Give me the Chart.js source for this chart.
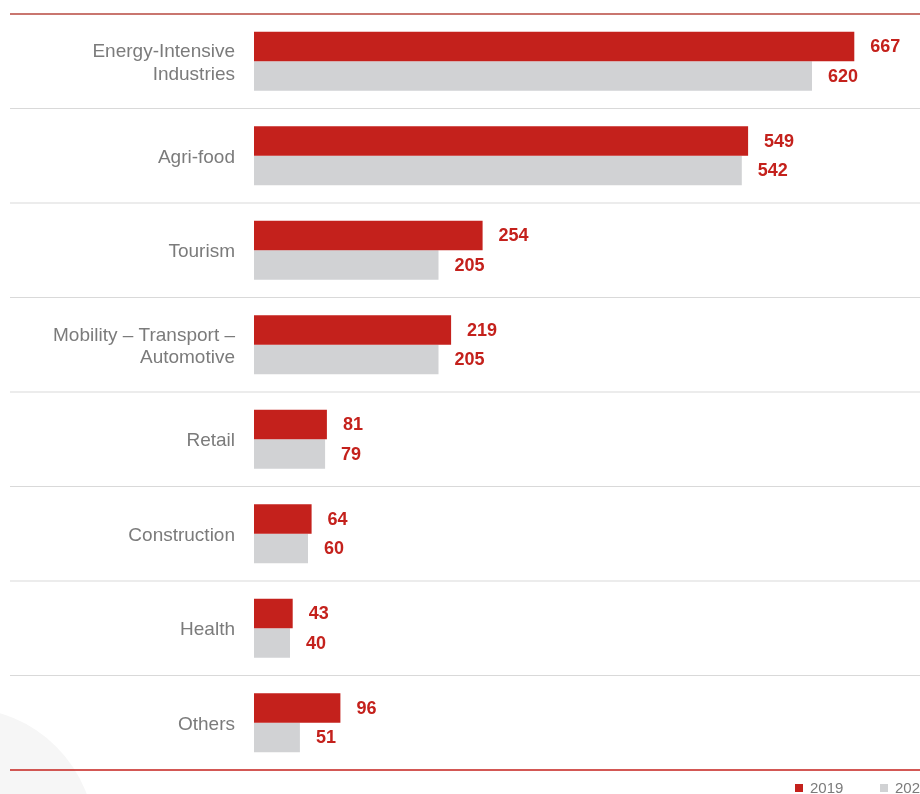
<!DOCTYPE html>
<html>
<head>
<meta charset="utf-8">
<script src="https://cdn.jsdelivr.net/npm/chart.js@4/dist/chart.umd.min.js"></script>
<style>
  html, body { margin: 0; padding: 0; background: #fff; overflow: hidden; }
  #wrap { width: 920px; height: 794px; position: relative; }
</style>
</head>
<body>
<div id="wrap"><canvas id="sectors-bar"></canvas></div>
<script>
const sectors = [
  ["Energy-Intensive", "Industries"],
  "Agri-food",
  "Tourism",
  ["Mobility \u2013 Transport \u2013", "Automotive"],
  "Retail",
  "Construction",
  "Health",
  "Others"
];
const values2019 = [667, 549, 254, 219, 81, 64, 43, 96];
const values2020 = [620, 542, 205, 205, 79, 60, 40, 51];
const seriesLabels = ["2019", "2020"];

const RED = "#c4211c";
const GREY_BAR = "#d1d2d4";
const FONT = "'Liberation Sans', Arial, Helvetica, sans-serif";

// faint circle in the lower left corner
const backdrop = {
  id: "backdrop",
  beforeDraw(chart) {
    const c = chart.ctx;
    c.save();
    c.fillStyle = "#f6f6f6";
    c.beginPath();
    c.arc(-37, 840, 132, 0, Math.PI * 2);
    c.fill();
    c.restore();
  }
};

// separators between categories, spanning from the labels to the right edge
const separators = {
  id: "separators",
  beforeDatasetsDraw(chart) {
    const c = chart.ctx;
    const y = chart.scales.y;
    const area = chart.chartArea;
    const n = sectors.length;
    c.save();
    for (let i = 0; i <= n; i++) {
      let py;
      if (i === 0) py = area.top;
      else if (i === n) py = area.bottom;
      else py = (y.getPixelForValue(i - 1) + y.getPixelForValue(i)) / 2;
      if (i === 0) { c.strokeStyle = "#c9766f"; c.lineWidth = 2; }
      else if (i === n) { c.strokeStyle = RED; c.lineWidth = 1.5; }
      else { c.strokeStyle = "#d9d9d9"; c.lineWidth = 1; }
      c.beginPath();
      c.moveTo(10, py);
      c.lineTo(chart.width, py);
      c.stroke();
    }
    c.restore();
  }
};

// value labels next to bar ends + custom legend
const valueLabels = {
  id: "valueLabels",
  afterDatasetsDraw(chart) {
    const c = chart.ctx;
    c.save();
    c.font = "bold 18px " + FONT;
    c.fillStyle = RED;
    c.textAlign = "left";
    c.textBaseline = "middle";
    chart.data.datasets.forEach((ds, di) => {
      chart.getDatasetMeta(di).data.forEach((bar, i) => {
        c.fillText(String(ds.data[i]), bar.x + 16, bar.y + 1);
      });
    });

    // legend
    c.font = "15px " + FONT;
    c.textBaseline = "middle";
    const ly = 788;
    let lx = 795;
    chart.data.datasets.forEach((ds) => {
      c.fillStyle = ds.backgroundColor;
      c.fillRect(lx, ly - 4, 8, 8);
      c.fillStyle = "#7b7b7b";
      c.fillText(ds.label, lx + 15, ly + 1);
      lx += 85;
    });
    c.restore();
  }
};

new Chart(document.getElementById("sectors-bar"), {
  type: "bar",
  data: {
    labels: sectors,
    datasets: [
      { label: seriesLabels[0], data: values2019, backgroundColor: RED },
      { label: seriesLabels[1], data: values2020, backgroundColor: GREY_BAR }
    ]
  },
  options: {
    indexAxis: "y",
    responsive: true,
    maintainAspectRatio: false,
    animation: false,
    categoryPercentage: 0.625,
    barPercentage: 1.0,
    layout: { padding: { top: 14, bottom: 24, left: 0, right: 0 } },
    plugins: {
      legend: { display: false },
      tooltip: { enabled: false }
    },
    scales: {
      x: {
        display: false,
        min: 0,
        max: 740
      },
      y: {
        afterFit(scale) {
          scale.width = 254;
          scale.paddingTop = 0;
          scale.paddingBottom = 0;
        },
        grid: { display: false, drawTicks: false },
        border: { display: false },
        ticks: {
          padding: 19,
          labelOffset: 2,
          color: "#7b7b7b",
          font: { family: FONT, size: 19, lineHeight: 1.16 }
        }
      }
    }
  },
  plugins: [backdrop, separators, valueLabels]
});
</script>
</body>
</html>
